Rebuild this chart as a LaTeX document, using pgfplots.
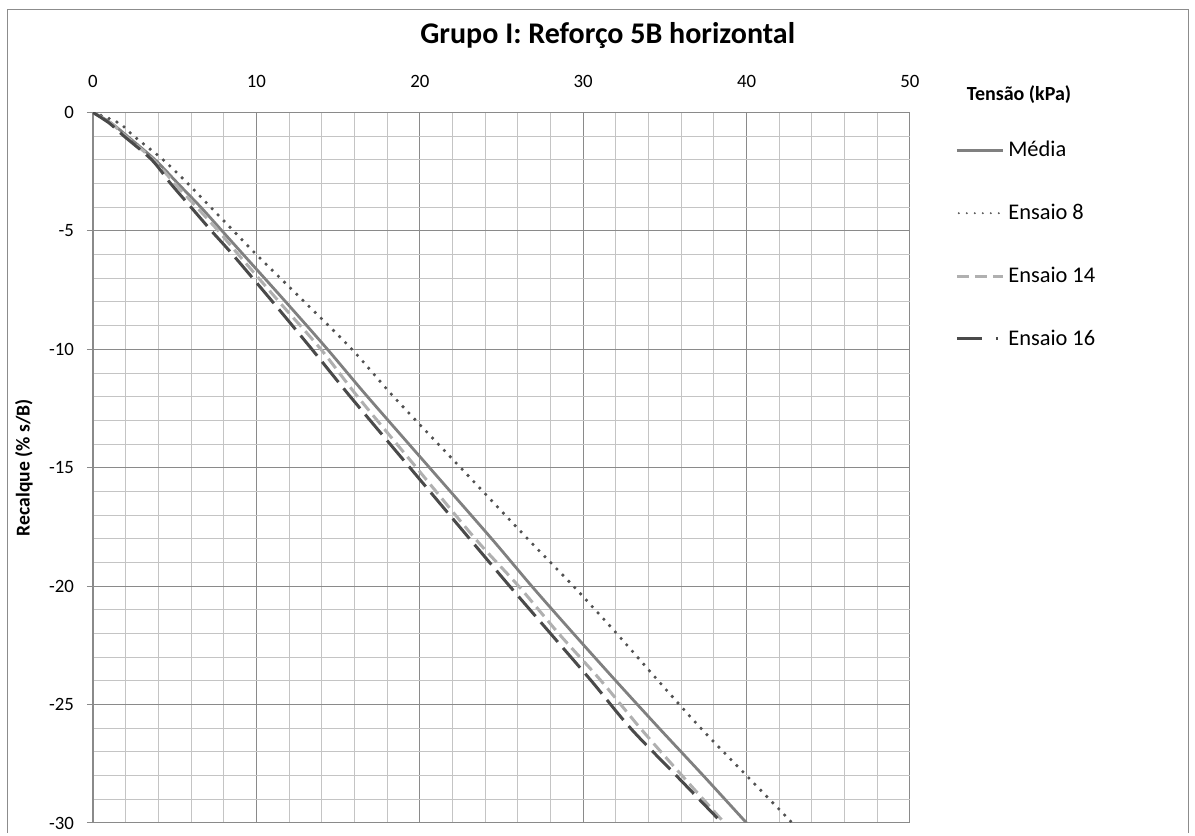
\documentclass[border=0pt]{standalone}
\usepackage{pgfplots}
\pgfplotsset{compat=1.18}
\usepackage{fontspec}
\setmainfont{Carlito}
\definecolor{cMedia}{HTML}{808080}
\definecolor{cEoito}{HTML}{525252}
\definecolor{cEquatorze}{HTML}{B0B0B0}
\definecolor{cEdezesseis}{HTML}{4A4A4A}
\definecolor{gmaj}{HTML}{8A8A8A}
\definecolor{gmin}{HTML}{C4C4C4}
\definecolor{cframe}{HTML}{8C8C8C}
\begin{document}
\begin{tikzpicture}
\path (0,0) rectangle (597.5pt,416.5pt);
\draw[cframe, line width=0.5pt] (3.5pt,0) -- (3.5pt,411.5pt) -- (594pt,411.5pt) -- (594pt,0);
\begin{axis}[
  at={(46.5pt,5pt)}, anchor=south west,
  scale only axis, width=408.5pt, height=355.25pt,
  xmin=0, xmax=50, ymin=-30, ymax=0,
  axis x line*=top, axis y line*=left,
  axis line style={draw=gmaj, line width=0.9pt, -},
  xtick={0,10,...,50}, ytick={0,-5,...,-30},
  minor x tick num=4, minor y tick num=4,
  grid=both,
  major grid style={draw=gmaj, line width=0.5pt},
  minor grid style={draw=gmin, line width=0.5pt},
  tick align=outside, major tick length=3pt, minor tick length=0pt,
  xtick style={draw=none},
  ytick style={draw=gmaj, line width=0.5pt},
  tick label style={font=\fontsize{9.4}{11}\selectfont, text=black},
  /pgf/number format/assume math mode=true,
  xticklabel style={yshift=6pt},
  yticklabel style={xshift=-3pt},
  title={Grupo I: Reforço 5B horizontal},
  title style={at={(axis description cs:0.630,1.091)}, anchor=center, font=\bfseries\fontsize{15}{18}\selectfont},
  xlabel={Tensão (kPa)},
  xlabel style={at={(axis description cs:1.1334,1.0246)}, anchor=center, font=\bfseries\fontsize{10}{12}\selectfont},
  ylabel={Recalque (\% s/B)},
  ylabel style={at={(axis description cs:-0.0845,0.5)}, anchor=center, font=\bfseries\fontsize{9.8}{11}\selectfont},
  legend style={at={(axis description cs:1.055,0.966)}, anchor=north west, draw=none, fill=none,
    font=\fontsize{11.2}{13}\selectfont, row sep=18.2pt, inner sep=0pt,
    /tikz/every even column/.append style={column sep=1pt}},
  legend cell align=left,
  legend image code/.code={\draw[#1] (0pt,0pt) -- (23pt,0pt);},
]
\addplot[cMedia, line width=1.4pt, smooth] coordinates {
(0,0) (1.1,-0.44) (2.1,-1) (3.8,-2) (5.2,-3) (6.6,-4) (7.9,-5) (9.2,-6)
(11.8,-8) (14.35,-10) (16.8,-12) (20.6,-15) (24.4,-18) (26.85,-20)
(29.4,-22) (32.0,-24) (34.65,-26) (37.35,-28) (40.0,-30)};
\addlegendentry{Média}
\addplot[cEoito, line width=1.8pt, line cap=round, dash pattern=on 0pt off 4.3pt, smooth,
  legend image code/.code={\draw[cEoito, line width=1.1pt, line cap=round, dash pattern=on 0pt off 4pt] (1pt,0pt) -- (23pt,0pt);}] coordinates {
(0,0) (1.6,-0.45) (2.5,-1) (4.3,-2) (5.8,-3) (7.2,-4) (8.6,-5) (10.0,-6)
(12.95,-8) (15.85,-10) (18.4,-12) (22.5,-15) (26.6,-18) (29.4,-20)
(32.05,-22) (34.6,-24) (37.2,-26) (40.0,-28) (42.8,-30)};
\addlegendentry{Ensaio 8}
\addplot[cEquatorze, line width=1.5pt, dash pattern=on 6pt off 3pt, smooth] coordinates {
(0,0) (1.1,-0.45) (2.0,-1) (3.7,-2) (5.0,-3) (6.35,-4) (7.67,-5) (8.9,-6)
(11.4,-8) (13.95,-10) (16.2,-12) (19.8,-15) (23.4,-18) (26.05,-20)
(28.5,-22) (31.1,-24) (33.5,-26) (36.05,-28) (38.65,-30)};
\addlegendentry{Ensaio 14}
\addplot[cEdezesseis, line width=1.5pt, dash pattern=on 13pt off 4pt, smooth,
  legend image code/.code={\draw[cEdezesseis, line width=1.5pt, dash pattern=on 12.5pt off 7pt on 1pt off 10pt] (0pt,0pt) -- (23pt,0pt);}] coordinates {
(0,0) (1.0,-0.45) (1.9,-1) (3.6,-2) (4.75,-3) (6.0,-4) (7.25,-5) (8.55,-6)
(11.0,-8) (13.4,-10) (15.75,-12) (19.4,-15) (23.05,-18) (25.5,-20)
(28.0,-22) (30.5,-24) (32.9,-26) (35.7,-28) (38.5,-30)};
\addlegendentry{Ensaio 16}
\end{axis}
\end{tikzpicture}
\end{document}
